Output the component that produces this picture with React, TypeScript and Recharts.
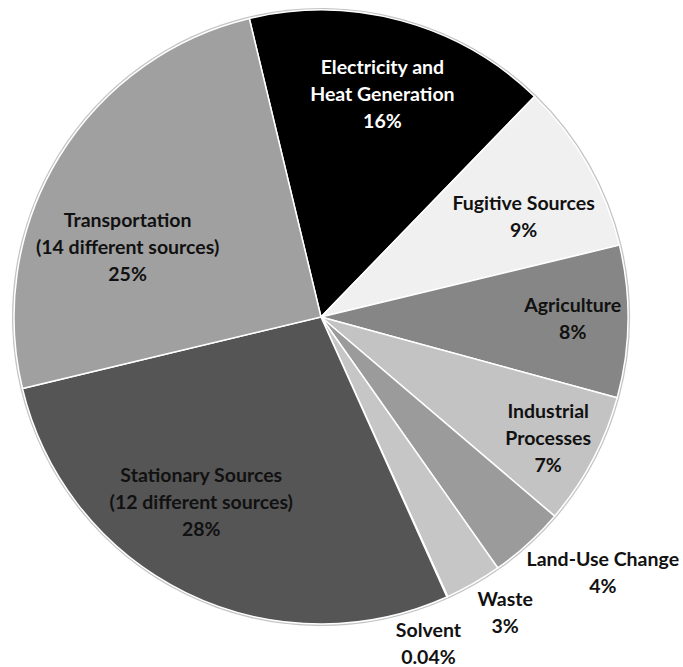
import { Cell, Pie, PieChart } from 'recharts'

// sources of emissions, clockwise from the top
const sources = [
  'Electricity and|Heat Generation',
  'Fugitive Sources',
  'Agriculture',
  'Industrial|Processes',
  'Land-Use Change',
  'Waste',
  'Solvent',
  'Stationary Sources|(12 different sources)',
  'Transportation|(14 different sources)',
]
const shares = [16, 9, 8, 7, 4, 3, 0.04, 28, 25]

const fills = ['#000000', '#f0f0f0', '#868686', '#c3c3c3', '#9b9b9b', '#c6c6c6', '#d9d9d9', '#555555', '#a0a0a0']
const textColors = ['#ffffff', '#111', '#111', '#111', '#111', '#111', '#111', '#111', '#111']

// label centres as fractions of the radius from the pie centre
const labelSpots = [
  [0.2, -0.73],
  [0.66, -0.33],
  [0.82, 0],
  [0.74, 0.39],
  [0.918, 0.83],
  [0.6, 0.96],
  [0.35, 1.06],
  [-0.39, 0.6],
  [-0.63, -0.23],
]

const data = sources.map((name, i) => ({ name, value: shares[i] }))

const LINE = 27

function renderLabel(props: any) {
  const { cx, cy, outerRadius, index, value } = props
  const lines = [...sources[index].split('|'), `${value}%`]
  const x = cx + labelSpots[index][0] * outerRadius
  const y = cy + labelSpots[index][1] * outerRadius
  const top = y - ((lines.length - 1) * LINE) / 2
  return (
    <text
      key={`lbl-${index}`}
      x={x}
      y={top}
      textAnchor="middle"
      dominantBaseline="central"
      fill={textColors[index]}
      style={{ fontFamily: 'Lato, sans-serif', fontWeight: 700, fontSize: 19.5 }}
    >
      {lines.map((line, i) => (
        <tspan key={i} x={x} y={top + i * LINE}>
          {line}
        </tspan>
      ))}
    </text>
  )
}

export default function App() {
  return (
    <div style={{ position: 'absolute', left: 0, top: 0, background: '#fff' }}>
      <PieChart width={683} height={667} margin={{ top: 0, right: 0, bottom: 0, left: 0 }}>
        <Pie
          data={data}
          dataKey="value"
          nameKey="name"
          cx={321}
          cy={317}
          outerRadius={309}
          startAngle={103.5}
          endAngle={-256.5}
          fill="#c4c4c4"
          stroke="none"
          isAnimationActive={false}
        />
        <Pie
          data={data}
          dataKey="value"
          nameKey="name"
          cx={321}
          cy={317}
          outerRadius={307}
          startAngle={103.5}
          endAngle={-256.5}
          stroke="#ffffff"
          strokeWidth={1.5}
          label={renderLabel}
          labelLine={false}
          isAnimationActive={false}
        >
          {data.map((entry, index) => (
            <Cell key={`${entry.name}-${index}`} fill={fills[index]} />
          ))}
        </Pie>
      </PieChart>
    </div>
  )
}
